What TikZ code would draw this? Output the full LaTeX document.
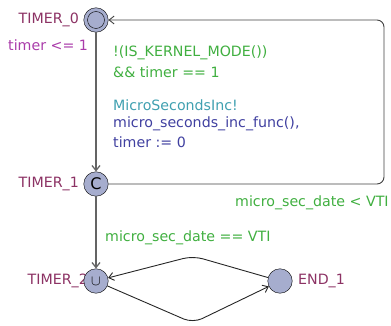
\documentclass[tikz,border=0pt]{standalone}
\usepackage{fontspec}
\setmainfont{DejaVu Sans}
\usetikzlibrary{arrows.meta}
\definecolor{locfill}{RGB}{166, 173, 206}
\definecolor{locname}{RGB}{140, 50, 100}
\definecolor{inv}{RGB}{170, 60, 170}
\definecolor{guard}{RGB}{64, 175, 64}
\definecolor{sync}{RGB}{64, 160, 176}
\definecolor{assign}{RGB}{64, 64, 160}
\definecolor{edge}{RGB}{100, 100, 100}

\begin{document}
\begin{tikzpicture}[x=1pt, y=-1pt, font=\fontsize{14.2}{18.5}\selectfont,
  loc/.style={circle, draw=black, fill=locfill, minimum size=24.5pt, inner sep=0pt},
  locnm/.style={color=locname, inner sep=0pt},
  trans/.style={draw=edge, line width=1.3pt, -{Straight Barb[length=5pt, width=8pt]}},
  lbl/.style={anchor=west, inner sep=0pt}]
  \useasboundingbox (0, 0) rectangle (391, 326);

  % location names first, TIMER_2 is partly covered
  \node[locnm, anchor=east] (n0) at (79, 20) {TIMER\_0};
  \node[locnm, anchor=east] (n1) at (79, 184) {TIMER\_1};
  \node[locnm, anchor=east] (n2) at (88, 281) {TIMER\_2};
  \node[locnm, anchor=west] (n3) at (298, 281) {END\_1};
  \node[color=inv, anchor=west, inner sep=0pt] (i0) at (8, 45) {timer <= 1};

  \node[loc] (t0) at (96, 20) {};
  \draw (t0) circle (8.5pt);
  \node[loc] (t1) at (96, 184) {\fontsize{16}{16}\selectfont C};
  \node[loc] (t2) at (96, 281) {\fontsize{14}{14}\selectfont$\cup$};
  \node[loc] (e1) at (280, 281) {};

  % edges
  \coordinate (c0) at (384, 20);
  \coordinate (c1) at (384, 184);
  \draw[trans] (t0) -- (t1);
  \draw[trans, draw=black!75, line width=0.9pt, rounded corners=7pt]
    (t1) -- (c1) -- (c0) -- (t0);
  \draw[trans] (t1) -- (t2);
  \coordinate (up) at (193, 256);
  \coordinate (dn) at (193, 323);
  \draw[trans, draw=black!85, line width=0.9pt, rounded corners=10pt]
    (e1) -- (up) -- (t2);
  \draw[trans, draw=black!85, line width=0.9pt, rounded corners=10pt]
    (t2) -- (dn) -- (e1);

  % labels
  \node[lbl, color=guard] (g0) at (113, 53) {!(IS\_KERNEL\_MODE())};
  \node[lbl, color=guard] (g1) at (113, 72) {\&\& timer == 1};
  \node[lbl, color=sync] (s0) at (113, 105) {MicroSecondsInc!};
  \node[lbl, color=assign] (a0) at (113, 124) {micro\_seconds\_inc\_func(),};
  \node[lbl, color=assign] (a1) at (113, 142) {timer := 0};
  \node[lbl, color=guard] (g2) at (235, 203) {micro\_sec\_date < VTI};
  \node[lbl, color=guard] (g3) at (105, 238) {micro\_sec\_date == VTI};
\end{tikzpicture}
\end{document}
